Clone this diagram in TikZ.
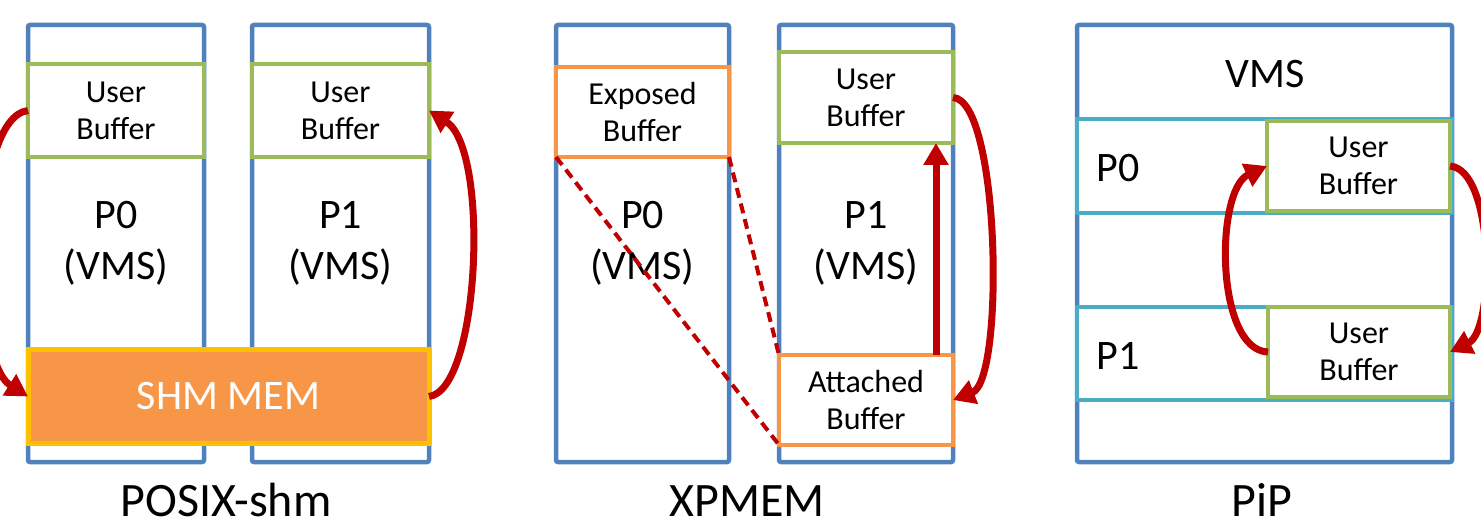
\documentclass[tikz,border=0pt]{standalone}
\usepackage{fontspec}
\setmainfont{Carlito}
\usetikzlibrary{arrows.meta}
\definecolor{vblue}{HTML}{4F81BD}
\definecolor{ugreen}{HTML}{9BBB59}
\definecolor{borange}{HTML}{F79646}
\definecolor{sgold}{HTML}{FFC000}
\definecolor{ared}{HTML}{C00000}
\definecolor{bcyan}{HTML}{4BACC6}
\begin{document}
\begin{tikzpicture}[x=1pt,y=-1pt,
  every node/.style={inner sep=0pt, outer sep=0pt, align=center},
  vbox/.style={draw=vblue, fill=white, line width=4.5pt, rounded corners=2pt, font=\fontsize{42}{51}\selectfont},
  ubox/.style={draw=ugreen, fill=white, line width=4.5pt, font=\fontsize{32}{37}\selectfont},
  obox/.style={draw=borange, fill=white, line width=4.5pt, font=\fontsize{32}{37}\selectfont},
  shmbox/.style={draw=sgold, fill=borange, line width=5pt, text=white, font=\fontsize{42}{50}\selectfont},
  band/.style={draw=bcyan, fill=white, line width=4.5pt},
  biglabel/.style={anchor=base, font=\fontsize{48}{50}\selectfont},
  midlabel/.style={font=\fontsize{42}{50}\selectfont},
  rarrow/.style={draw=ared, line width=7pt, -{Triangle[length=22pt,width=24pt]}},
  rdash/.style={draw=ared, line width=4pt, dash pattern=on 10pt off 6pt}
]
\useasboundingbox (0,0) rectangle (1481,529);

% ---------- POSIX-shm ----------
\node[vbox, minimum width=176pt, minimum height=437pt] (p0) at (116,243.5) {P0\\(VMS)};
\node[vbox, minimum width=177pt, minimum height=437pt] (p1) at (340.5,243.5) {P1\\(VMS)};
\node[ubox, minimum width=176pt, minimum height=93pt] (ub0) at (116,110.5) {User\\Buffer};
\node[ubox, minimum width=177pt, minimum height=93pt] (ub1) at (340.5,110.5) {User\\Buffer};
\node[shmbox, minimum width=401pt, minimum height=93pt] (shm) at (228.5,396.5) {SHM MEM};
\draw[rarrow] (ub0.west) .. controls (-30,118) and (-30,360) .. (shm.west);
\draw[rarrow] (shm.east) .. controls (480,390) and (490,150) .. (ub1.east);
\node[biglabel] (l1) at (226,516) {POSIX-shm};

% ---------- XPMEM ----------
\node[vbox, minimum width=173pt, minimum height=437pt] (q0) at (642.5,243.5) {P0\\(VMS)};
\node[vbox, minimum width=174pt, minimum height=437pt] (q1) at (866,243.5) {P1\\(VMS)};
\node[obox, minimum width=173pt, minimum height=90pt] (exp) at (642.5,112) {Exposed\\Buffer};
\node[ubox, minimum width=174pt, minimum height=91pt] (ubq) at (866,97.5) {User\\Buffer};
\node[obox, minimum width=174pt, minimum height=90pt] (att) at (866,400) {Attached\\Buffer};
\draw[rdash] (exp.south west) -- (att.south west);
\draw[rdash] (exp.south east) -- (att.north west);
\draw[rarrow] ([xshift=70pt]att.north) -- ([xshift=70pt]ubq.south);
\draw[rarrow] (ubq.east) .. controls (1000,100) and (1005,380) .. (att.east);
\node[biglabel] (l2) at (747,516) {XPMEM};

% ---------- PiP ----------
\node[vbox, minimum width=375pt, minimum height=437pt] (pip) at (1264.5,243.5) {};
\node[midlabel] (vms) at (1265,74) {VMS};
\node[band, minimum width=375pt, minimum height=94pt] (b0) at (1264.5,166) {};
\node[band, minimum width=375pt, minimum height=93pt] (b1) at (1264.5,353.5) {};
\node[midlabel] (t0) at (1118,168) {P0};
\node[midlabel] (t1) at (1118,356) {P1};
\node[ubox, minimum width=183pt, minimum height=90pt] (ua) at (1358.5,166) {User\\Buffer};
\node[ubox, minimum width=182pt, minimum height=90pt] (ubb) at (1359,352) {User\\Buffer};
\draw[rarrow] (ubb.west) .. controls (1215,350) and (1215,190) .. (ua.west);
\draw[rarrow] (ua.east) .. controls (1495,170) and (1495,330) .. (ubb.east);
\node[biglabel] (l3) at (1262,516) {PiP};
\end{tikzpicture}
\end{document}
